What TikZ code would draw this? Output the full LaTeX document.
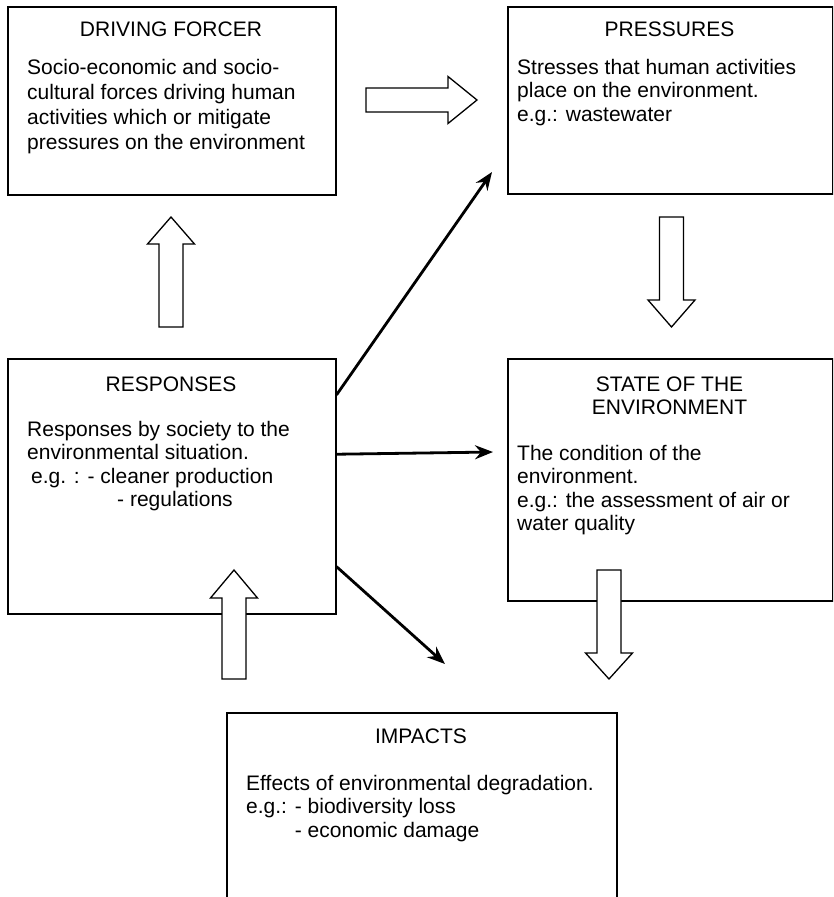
\documentclass[tikz,border=0pt]{standalone}
\usepackage{fontspec}
\setmainfont{Liberation Sans}
\usetikzlibrary{arrows.meta}
\newcommand{\vhollow}[4]{\draw[hollow] (#1-12,#2) -- (#1-12,#3) -- (#1-23.5,#3) -- (#1,#4) -- (#1+23.5,#3) -- (#1+12,#3) -- (#1+12,#2) -- cycle;}
\begin{document}
\begin{tikzpicture}[x=1pt,y=-1pt,
  box/.style={draw,line width=1.5pt,rectangle,inner sep=0pt,anchor=north west},
  ttl/.style={font=\fontsize{21}{23.5}\selectfont,anchor=base,inner sep=0pt,align=center},
  body/.style={font=\fontsize{21}{23.5}\selectfont,anchor=base west,inner sep=0pt,align=left},
  hollow/.style={draw,line width=1.3pt,fill=white,line join=miter},
  link/.style={line width=2.8pt,-{Stealth[length=18pt,width=14pt,inset=6pt]}}]
\useasboundingbox (0,0) rectangle (833,897);
\clip (0,0) rectangle (833,897);
% boxes
\node[box,minimum width=328pt,minimum height=188pt] (drv) at (7,6) {};
\node[box,minimum width=325pt,minimum height=187pt] (prs) at (507,6) {};
\node[box,minimum width=328pt,minimum height=255pt] (rsp) at (7,358) {};
\node[box,minimum width=325pt,minimum height=242pt] (ste) at (507,358) {};
\node[box,minimum width=390pt,minimum height=200pt] (imp) at (226,712) {};
% titles (base anchor = baseline of last line)
\node[ttl] (drvT) at (171,36) {DRIVING FORCER};
\node[ttl] (prsT) at (669.5,36) {PRESSURES};
\node[ttl] (rspT) at (171,391) {RESPONSES};
\node[ttl] (steT) at (669.5,414.5) {STATE OF THE\\ENVIRONMENT};
\node[ttl] (impT) at (421,743) {IMPACTS};
% bodies (base anchor = baseline of last line)
\node[body,font=\fontsize{21}{25}\selectfont] (drvB) at (27,149) {Socio-economic and socio-\\cultural forces driving human\\activities which or mitigate\\pressures on the environment};
\node[body] (prsB) at (517,121) {Stresses that human activities\\place on the environment.\\e.g.: wastewater};
\node[body] (rspB) at (27,506.5) {Responses by society to the\\environmental situation.\\\hspace*{4pt}e.g. : - cleaner production\\\hspace*{90pt}- regulations};
\node[body] (steB) at (517,530.5) {The condition of the\\environment.\\e.g.: the assessment of air or\\water quality};
\node[body] (impB) at (246,837) {Effects of environmental degradation.\\e.g.: - biodiversity loss\\\phantom{e.g.: }- economic damage};
% hollow arrows
\draw[hollow] (366,88) -- (448,88) -- (448,76.5) -- (477,100) -- (448,123.5) -- (448,112) -- (366,112) -- cycle;
\vhollow{171}{327}{244}{217}
\vhollow{671.5}{217}{300}{327}
\vhollow{234}{679}{598}{570}
\vhollow{609}{570}{653}{679}
% thin arrows
\coordinate (tipP) at (492,172);
\coordinate (tipS) at (493,452);
\coordinate (tipI) at (445,664);
\draw[link] (rsp.29.4) -- (tipP);
\draw[link] (rsp.11.5) -- (tipS);
\draw[link] (rsp.-26.7) -- (tipI);
\end{tikzpicture}
\end{document}
